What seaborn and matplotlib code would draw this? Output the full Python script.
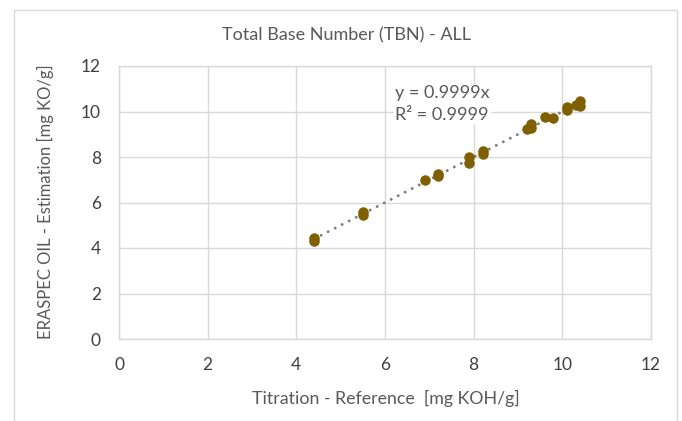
import matplotlib
matplotlib.use("Agg")
import matplotlib.pyplot as plt
import seaborn as sns
import numpy as np
import pandas as pd
from matplotlib.patches import Rectangle

# Reference (titration) vs. ERASPEC estimation
titration_ref = [4.4, 4.4, 5.5, 5.5, 6.9, 7.2, 7.2, 7.9, 7.9, 8.2, 8.2,
                 9.2, 9.3, 9.3, 9.6, 9.8, 10.1, 10.1, 10.3, 10.4, 10.4]
eraspec_est = [4.45, 4.3, 5.6, 5.45, 6.97, 7.25, 7.15, 8.02, 7.75, 8.25, 8.15,
               9.25, 9.45, 9.28, 9.78, 9.72, 10.2, 10.07, 10.27, 10.45, 10.22]
slope = 0.9999
r_squared = 0.9999

df = pd.DataFrame({"ref": titration_ref, "est": eraspec_est})

sns.set_style("white")
plt.rcParams["font.family"] = ["Lato", "DejaVu Sans"]

fig = plt.figure(figsize=(6.82, 4.21), dpi=100)
ax = fig.add_axes([119 / 682, 82 / 421, 532 / 682, 273 / 421])

grid_col = "#d9d9d9"
text_col = "#595959"

# outer chart border
fig.patches.append(Rectangle((14 / 682, -0.05), 663 / 682, 1.05 - 10 / 421,
                             transform=fig.transFigure, fill=False,
                             edgecolor=grid_col, linewidth=1.0))

# trendline through origin over data range
xs = np.array([min(titration_ref), max(titration_ref)])
ax.plot(xs, slope * xs, color="#7f7f7f", linestyle=(0, (0.05, 2.65)),
        linewidth=2.1, dash_capstyle="round", zorder=2)

sns.scatterplot(data=df, x="ref", y="est", ax=ax, color="#7f6000",
                edgecolor="#7f6000", s=45, linewidth=0.8, zorder=3)

ax.set_xlim(0, 12)
ax.set_ylim(0, 12)
ax.set_xticks(range(0, 13, 2))
ax.set_yticks(range(0, 13, 2))
ax.grid(True, color=grid_col, linewidth=1.0)
ax.set_axisbelow(True)
for sp in ax.spines.values():
    sp.set_color(grid_col)
    sp.set_linewidth(1.0)
ax.tick_params(axis="both", length=0, labelsize=12.5, labelcolor="#404040")
ax.tick_params(axis="x", pad=13)
ax.tick_params(axis="y", pad=13)
ax.set_xlabel("")
ax.set_ylabel("")

ax.text(6.23, 10.33, f"y = {slope}x\nR² = {r_squared}", fontsize=13,
        color=text_col, ha="left", va="center", linespacing=1.4,
        bbox=dict(facecolor="white", edgecolor="none", pad=1), zorder=4)

fig.text(347 / 682, 1 - 35 / 421, "Total Base Number (TBN) - ALL",
         ha="center", va="center", fontsize=13, color=text_col)
fig.text(386 / 682, 1 - 398 / 421, "Titration - Reference  [mg KOH/g]",
         ha="center", va="center", fontsize=12.8, color=text_col)
fig.text(45 / 682, 1 - 202 / 421, "ERASPEC OIL - Estimation [mg KO/g]",
         ha="center", va="center", rotation=90, fontsize=12, color=text_col)

fig.savefig("out.png", dpi=100, facecolor="white")
